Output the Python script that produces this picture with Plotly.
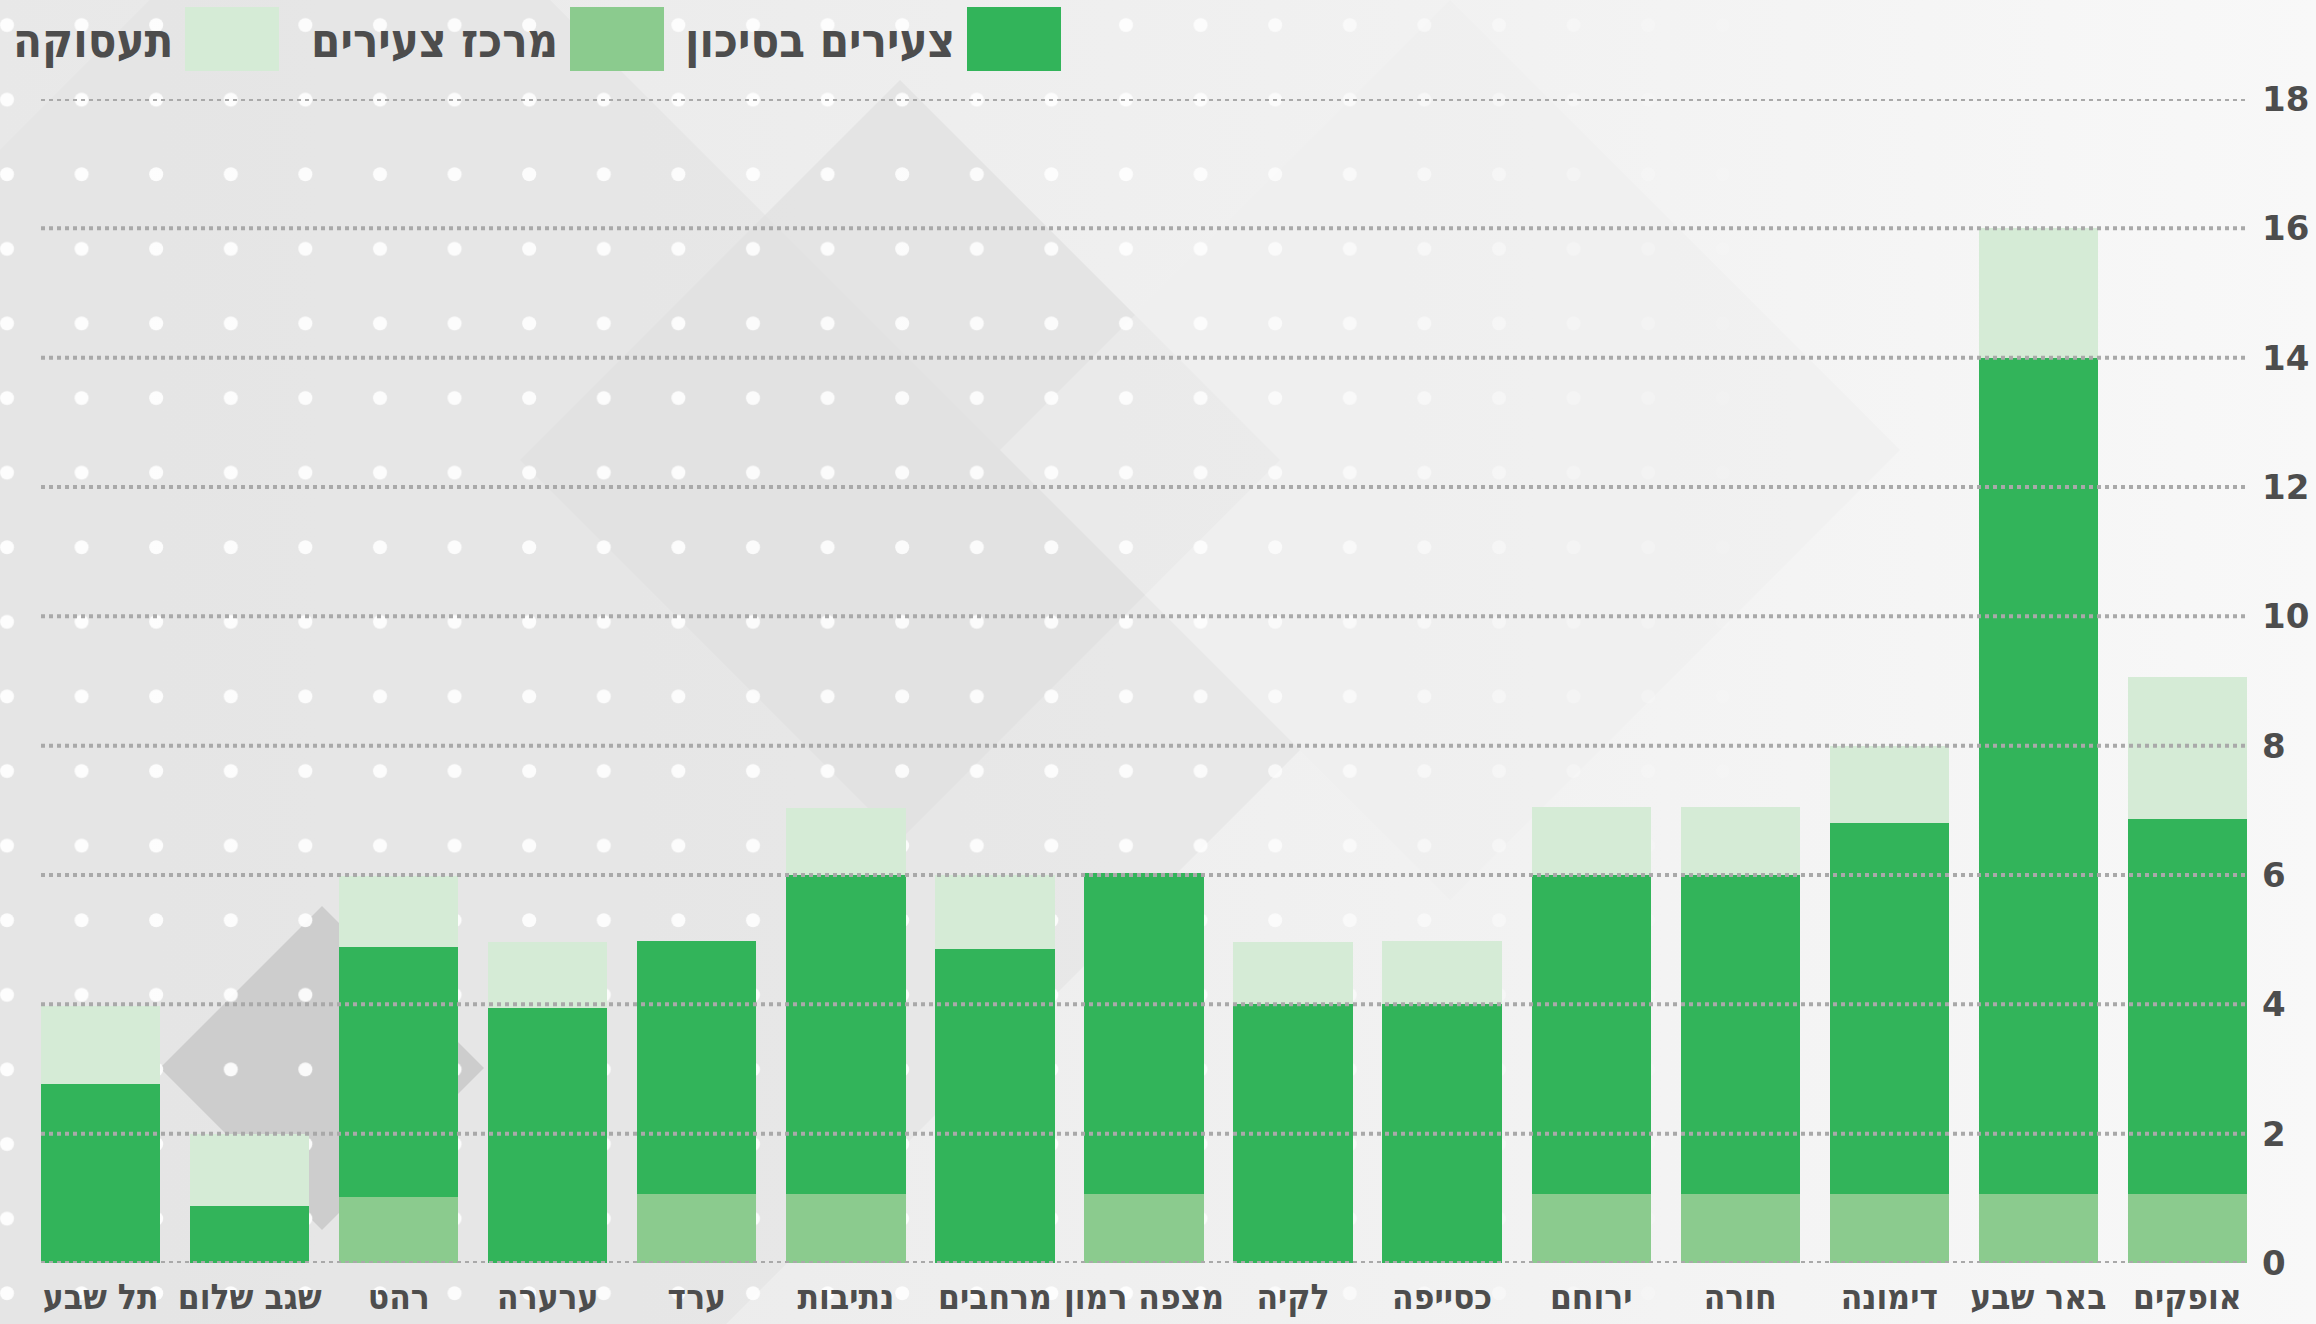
import base64

import plotly.graph_objects as go

# data, right-to-left order (first category is drawn on the right)
towns = ["אופקים", "באר שבע", "דימונה", "חורה", "ירוחם", "כסייפה", "לקיה", "מצפה רמון",
         "מרחבים", "נתיבות", "ערד", "ערערה", "רהט", "שגב שלום", "תל שבע"]
youth_center = [1.07, 1.07, 1.07, 1.07, 1.07, 0, 0, 1.07, 0, 1.07, 1.07, 0, 1.02, 0, 0]
youth_at_risk = [5.8, 12.93, 5.73, 4.93, 4.93, 4.0, 4.0, 4.96, 4.85, 4.93, 3.91, 3.95, 3.86, 0.88, 2.77]
employment = [2.19, 2.0, 1.2, 1.05, 1.05, 0.98, 0.97, 0, 1.15, 1.04, 0, 1.02, 1.1, 1.12, 1.2]
y_ticks = [0, 2, 4, 6, 8, 10, 12, 14, 16, 18]

# stacking order bottom -> top
series = [
    ("מרכז צעירים", youth_center, "#8bcb8e"),
    ("צעירים בסיכון", youth_at_risk, "#32b45a"),
    ("תעסוקה", employment, "#d5ebd6"),
]
# legend order right -> left
legend_order = ["צעירים בסיכון", "מרכז צעירים", "תעסוקה"]

W, H = 2316, 1324
ML, MR, MT, MB = 41, 69, 99, 61
PW, PH = W - ML - MR, H - MT - MB

HEB_FONT = "DejaVu Sans Condensed, DejaVu Sans, sans-serif"


def px_x(x):
    return (x - ML) / PW


def px_y(y):
    return 1 - (y - MT) / PH


def background_svg():
    svg = f'''<svg xmlns="http://www.w3.org/2000/svg" width="{W}" height="{H}">
<defs>
<linearGradient id="g" x1="0" y1="0" x2="1" y2="0">
<stop offset="0" stop-color="#e8e8e8"/><stop offset="0.55" stop-color="#f0f0f0"/><stop offset="1" stop-color="#f8f8f8"/>
</linearGradient>
<linearGradient id="f" x1="0" y1="0" x2="1" y2="0">
<stop offset="0" stop-color="#fff" stop-opacity="0.9"/><stop offset="0.5" stop-color="#fff" stop-opacity="0.85"/><stop offset="0.78" stop-color="#fff" stop-opacity="0"/>
</linearGradient>
<mask id="m"><rect width="{W}" height="{H}" fill="url(#f)"/></mask>
<pattern id="d" width="74.6" height="74.6" patternUnits="userSpaceOnUse" x="-30" y="-12">
<circle cx="37" cy="37" r="7" fill="#fff"/>
</pattern>
</defs>
<rect width="{W}" height="{H}" fill="url(#g)"/>
<polygon points="350,-200 1300,750 350,1700 -600,750" fill="#e2e2e2" opacity="0.6"/>
<polygon points="900,80 1280,460 900,840 520,460" fill="#e0e0e0" opacity="0.7"/>
<polygon points="1450,0 1900,450 1450,900 1000,450" fill="#efefef" opacity="0.6"/>
<polygon points="160,1068 322,906 484,1068 322,1230" fill="#cdcdcd"/>
<rect width="{W}" height="{H}" fill="url(#d)" mask="url(#m)"/>
</svg>'''
    return "data:image/svg+xml;base64," + base64.b64encode(svg.encode("utf-8")).decode()


fig = go.Figure()
for name, vals, color in series:
    fig.add_trace(go.Bar(x=towns, y=vals, name=name, marker=dict(color=color, line=dict(width=0)),
                         showlegend=False))

shapes = []
# dotted gridlines above the bars
for t in y_ticks:
    shapes.append(dict(type="line", xref="paper", yref="y", x0=0, x1=1, y0=t, y1=t,
                       line=dict(color="#a9a9a9", width=4, dash="dot"), layer="above"))

# custom legend: wide swatch on the right, label to its left
annotations = []
swatch_left = [967, 570, 185]
colors = {n: c for n, _, c in series}
for name, left in zip(legend_order, swatch_left):
    shapes.append(dict(type="rect", xref="paper", yref="paper",
                       x0=px_x(left), x1=px_x(left + 94), y0=px_y(71), y1=px_y(7),
                       fillcolor=colors[name], line=dict(width=0), layer="above"))
    annotations.append(dict(text=name, xref="paper", yref="paper", x=px_x(left - 10), y=px_y(41),
                            xanchor="right", yanchor="middle", showarrow=False,
                            font=dict(family=HEB_FONT, size=47, color="#4d4d4d", weight="bold")))

fig.update_layout(
    width=W, height=H,
    barmode="stack", bargap=0.2,
    margin=dict(l=ML, r=MR, t=MT, b=MB, autoexpand=False),
    paper_bgcolor="#f0f0f0", plot_bgcolor="rgba(0,0,0,0)",
    shapes=shapes, annotations=annotations,
    images=[dict(source=background_svg(), xref="paper", yref="paper",
                 x=-ML / PW, y=1 + MT / PH, sizex=W / PW, sizey=H / PH,
                 xanchor="left", yanchor="top", sizing="stretch", layer="below")],
    xaxis=dict(range=[14.4, -0.4], showgrid=False, zeroline=False, showline=False, ticks="",
               tickangle=0, ticklabelstandoff=10, automargin=False,
               tickfont=dict(family=HEB_FONT, size=35, color="#4d4d4d", weight="bold")),
    yaxis=dict(range=[0, 18], side="right", tickvals=y_ticks, showgrid=False, zeroline=False,
               showline=False, ticks="", ticklabelstandoff=14, automargin=False,
               tickfont=dict(family="DejaVu Sans, Verdana, sans-serif", size=34,
                             color="#4d4d4d", weight="bold")),
)

fig.write_html("out.html", config={"displayModeBar": False},
               post_script="document.body.style.margin = '0';")
